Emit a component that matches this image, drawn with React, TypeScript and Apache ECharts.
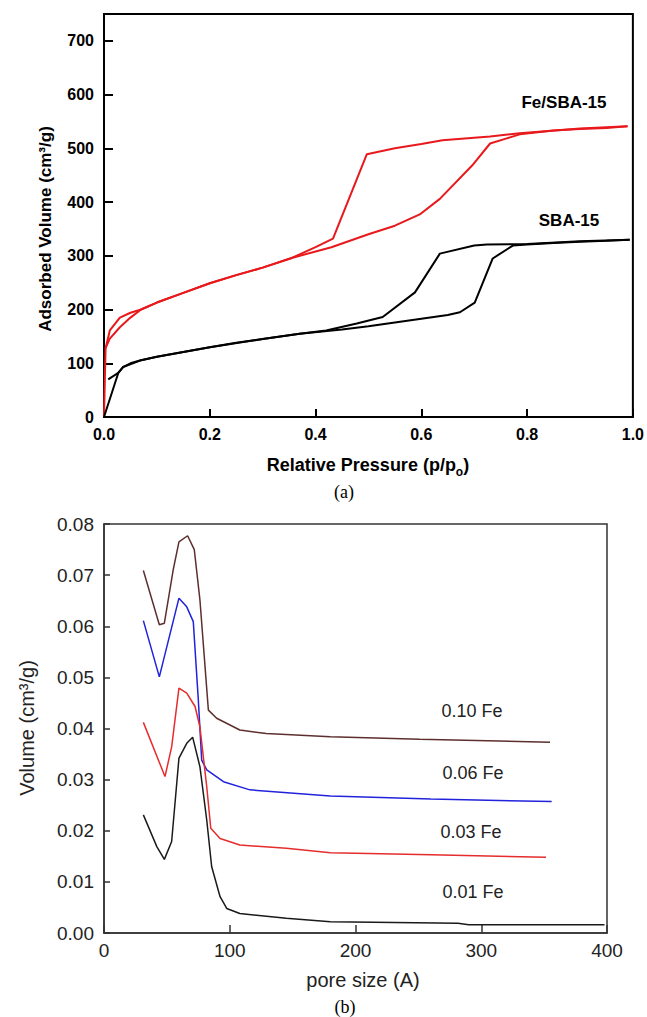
import React, { useEffect, useRef } from "react";
import * as echarts from "echarts";

// ---------- (a) N2 isotherms: [p/p0, volume cm3/g] ----------
const feAdsorption: number[][] = [
  [0, 0], [0.003, 128], [0.011, 146], [0.03, 167], [0.05, 185], [0.07, 200],
  [0.1, 213], [0.15, 231], [0.2, 249], [0.25, 264], [0.3, 278], [0.355, 296],
  [0.43, 316], [0.5, 340], [0.55, 356], [0.597, 377], [0.635, 406], [0.696, 468],
  [0.73, 509], [0.76, 518], [0.786, 526], [0.85, 533], [0.9, 536], [0.95, 538], [0.99, 541],
];
const feDesorption: number[][] = [
  [0.99, 541], [0.9, 537], [0.786, 528], [0.73, 522], [0.64, 515], [0.6, 508],
  [0.55, 500], [0.497, 489], [0.433, 332], [0.4, 316], [0.355, 296], [0.3, 278],
  [0.25, 264], [0.2, 249], [0.15, 231], [0.1, 213], [0.07, 200], [0.05, 194],
  [0.03, 185], [0.011, 161], [0.003, 128],
];
const sbaAdsorption: number[][] = [
  [0, 0], [0.027, 82], [0.036, 93], [0.05, 100], [0.068, 105], [0.1, 112],
  [0.15, 121], [0.2, 130], [0.25, 138], [0.3, 145], [0.37, 155], [0.45, 163],
  [0.5, 169], [0.55, 176], [0.6, 183], [0.65, 190], [0.673, 195], [0.701, 213],
  [0.735, 295], [0.773, 319], [0.8, 321], [0.85, 324], [0.9, 326], [0.95, 328], [0.994, 330],
];
const sbaDesorption: number[][] = [
  [0.994, 330], [0.9, 327], [0.8, 322], [0.724, 321], [0.7, 319], [0.635, 304],
  [0.588, 232], [0.527, 186], [0.478, 174], [0.42, 161], [0.37, 155], [0.3, 145],
  [0.2, 130], [0.1, 112], [0.068, 105], [0.036, 93], [0.027, 82], [0.008, 70],
];

// ---------- (b) pore size distribution: [pore size A, volume cm3/g] ----------
const fe010: number[][] = [
  [31.3, 0.0709], [44, 0.0603], [48, 0.0606], [55, 0.071], [59.6, 0.0765],
  [66.5, 0.0777], [71.8, 0.075], [76.3, 0.0651], [83, 0.0436], [89.6, 0.042],
  [108, 0.0397], [129, 0.039], [180, 0.0384], [251, 0.0379], [354.7, 0.0373],
];
const fe006: number[][] = [
  [31.3, 0.0611], [44, 0.0501], [59.6, 0.0655], [65.8, 0.0638], [71, 0.0609],
  [75, 0.0456], [77.7, 0.0338], [81.7, 0.0319], [95, 0.0296], [116, 0.028],
  [180, 0.0268], [260, 0.0262], [356, 0.0257],
];
const fe003: number[][] = [
  [31.3, 0.0412], [48.5, 0.0306], [53.8, 0.0364], [59.6, 0.0479], [65.8, 0.0469],
  [72.4, 0.0443], [76.3, 0.0403], [81.7, 0.0286], [84.9, 0.0205], [92.3, 0.0185],
  [108, 0.0172], [145, 0.0166], [180, 0.0157], [260, 0.0153], [351.5, 0.0148],
];
const fe001: number[][] = [
  [31.3, 0.0231], [42, 0.0169], [48, 0.0144], [53.8, 0.0179], [59.6, 0.0342],
  [65.8, 0.0371], [70.5, 0.0383], [76.3, 0.0325], [81.7, 0.0221], [85.6, 0.013],
  [92.3, 0.0071], [97.6, 0.0048], [108, 0.0038], [145, 0.0029], [180, 0.0022],
  [281.5, 0.0019], [290, 0.0016], [398, 0.0016],
];

const SANS = '"Liberation Sans", Arial, sans-serif';
const SERIF = '"Liberation Serif", "Times New Roman", serif';

export default function App() {
  const ref = useRef<HTMLDivElement>(null);

  useEffect(() => {
    if (!ref.current) return;
    const chart = echarts.init(ref.current, undefined, { renderer: "svg" });

    const line = (data: number[][], color: string, width: number, idx: number) => ({
      type: "line",
      data,
      xAxisIndex: idx,
      yAxisIndex: idx,
      symbol: "none",
      showSymbol: false,
      silent: true,
      lineStyle: { color, width },
    });

    const text = (x: number, y: number, t: string, font: string, fill = "#000", rotation = 0) => ({
      type: "text",
      x,
      y,
      rotation,
      silent: true,
      style: { text: t, font, fill, align: "center", verticalAlign: "middle" },
    });

    chart.setOption({
      animation: false,
      backgroundColor: "#fff",
      grid: [
        { left: 104, top: 14, width: 529, height: 403, show: true, borderColor: "#000", borderWidth: 2 },
        { left: 104, top: 524, width: 503, height: 409, show: true, borderColor: "#333", borderWidth: 1.5 },
      ],
      xAxis: [
        {
          gridIndex: 0, type: "value", min: 0, max: 1, interval: 0.2,
          axisLine: { onZero: false, lineStyle: { color: "#000", width: 2 } },
          axisTick: { inside: true, length: 8, lineStyle: { color: "#000", width: 2 } },
          axisLabel: { formatter: (v: number) => v.toFixed(1), fontSize: 16, fontWeight: "bold", color: "#000", fontFamily: SANS, margin: 9 },
          splitLine: { show: false },
        },
        {
          gridIndex: 1, type: "value", min: 0, max: 400, interval: 100,
          axisLine: { onZero: false, lineStyle: { color: "#333", width: 1.5 } },
          axisTick: { inside: true, length: 8, lineStyle: { color: "#333", width: 1.5 } },
          axisLabel: { fontSize: 19, color: "#222", fontFamily: SANS, margin: 8 },
          splitLine: { show: false },
        },
      ],
      yAxis: [
        {
          gridIndex: 0, type: "value", min: 0, max: 750, interval: 100,
          axisLine: { onZero: false, lineStyle: { color: "#000", width: 2 } },
          axisTick: { inside: true, length: 9, lineStyle: { color: "#000", width: 2 } },
          axisLabel: { formatter: (v: number) => (v > 700 ? "" : String(v)), fontSize: 16, fontWeight: "bold", color: "#000", fontFamily: SANS, margin: 10 },
          splitLine: { show: false },
        },
        {
          gridIndex: 1, type: "value", min: 0, max: 0.08, interval: 0.01,
          axisLine: { onZero: false, lineStyle: { color: "#333", width: 1.5 } },
          axisTick: { inside: true, length: 6, lineStyle: { color: "#333", width: 1.5 } },
          axisLabel: { formatter: (v: number) => v.toFixed(2), fontSize: 19, color: "#222", fontFamily: SANS, margin: 10 },
          splitLine: { show: false },
        },
      ],
      series: [
        line(feAdsorption, "#e8191c", 2, 0),
        line(feDesorption, "#e8191c", 2, 0),
        line(sbaAdsorption, "#000", 2, 0),
        line(sbaDesorption, "#000", 2, 0),
        line(fe010, "#5e2f2f", 1.5, 1),
        line(fe006, "#2222dd", 1.5, 1),
        line(fe003, "#e52d2d", 1.5, 1),
        line(fe001, "#1a1a1a", 1.5, 1),
      ],
      graphic: [
        text(45, 229, "Adsorbed Volume (cm³/g)", `bold 17px ${SANS}`, "#000", Math.PI / 2),
        {
          type: "text",
          x: 368,
          y: 465,
          silent: true,
          style: {
            text: "{m|Relative Pressure (p/p}{s|o}{m|)}",
            align: "center",
            verticalAlign: "middle",
            rich: {
              m: { fontSize: 18, fontWeight: "bold", fontFamily: SANS, fill: "#000", lineHeight: 26, verticalAlign: "middle" },
              s: { fontSize: 12, fontWeight: "bold", fontFamily: SANS, fill: "#000", lineHeight: 14, verticalAlign: "bottom" },
            },
          },
        },
        text(344, 492, "(a)", `18px ${SERIF}`),
        text(564, 102, "Fe/SBA-15", `bold 17px ${SANS}`),
        text(569, 220, "SBA-15", `bold 17px ${SANS}`),
        text(27, 728, "Volume (cm³/g)", `20px ${SANS}`, "#222", Math.PI / 2),
        text(363, 980, "pore size (A)", `20px ${SANS}`, "#222"),
        text(345, 1007, "(b)", `18px ${SERIF}`),
        text(472, 711, "0.10 Fe", `18px ${SANS}`, "#222"),
        text(473, 773, "0.06 Fe", `18px ${SANS}`, "#222"),
        text(471, 832, "0.03 Fe", `18px ${SANS}`, "#222"),
        text(473, 892, "0.01 Fe", `18px ${SANS}`, "#222"),
      ],
    });

    return () => chart.dispose();
  }, []);

  return (
    <div
      ref={ref}
      style={{ position: "absolute", left: 0, top: 0, width: 647, height: 1017, background: "#fff" }}
    />
  );
}
